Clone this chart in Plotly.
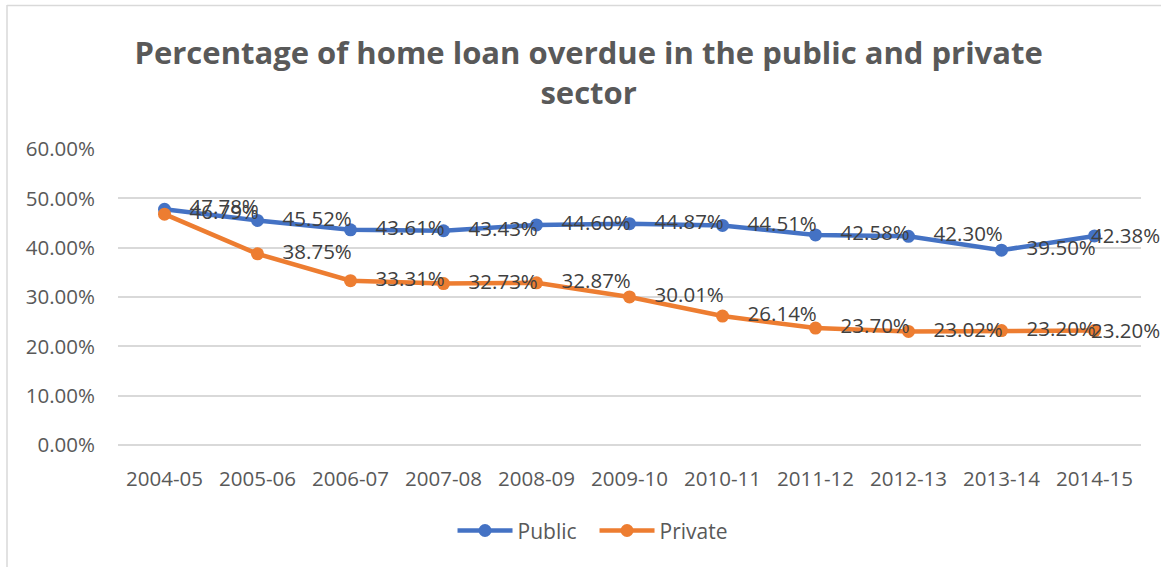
import plotly.graph_objects as go

years = ["2004-05", "2005-06", "2006-07", "2007-08", "2008-09", "2009-10",
         "2010-11", "2011-12", "2012-13", "2013-14", "2014-15"]
public = [47.78, 45.52, 43.61, 43.43, 44.60, 44.87, 44.51, 42.58, 42.30, 39.50, 42.38]
private = [46.79, 38.75, 33.31, 32.73, 32.87, 30.01, 26.14, 23.70, 23.02, 23.20, 23.20]
y_ticks = [0, 10, 20, 30, 40, 50, 60]

FONT = "Open Sans"
L, R, T, B = 118, 20, 149, 122
W, H = 1161, 567
pw = W - L - R
ph = H - T - B
PAD = "\u00a0\u00a0\u00a0"
LABEL_FONT = dict(family=FONT, size=20.5, color="#404040")

fig = go.Figure()
for name, vals, col in [("Public", public, "#4472C4"), ("Private", private, "#ED7D31")]:
    txt = [f"{PAD}{v:.2f}%" for v in vals[:-1]] + [""]
    fig.add_trace(go.Scatter(
        x=years, y=[v / 100 for v in vals], name=name,
        mode="lines+markers+text",
        line=dict(color=col, width=4.5),
        marker=dict(color=col, size=13),
        text=txt,
        textposition="middle right",
        textfont=LABEL_FONT,
        cliponaxis=False,
    ))
    # last label sits over its marker (kept inside the chart like the original)
    fig.add_annotation(
        x=years[-1], y=vals[-1] / 100, text=f"{vals[-1]:.2f}%",
        xanchor="left", yanchor="middle", xshift=-6, yshift=1,
        showarrow=False, font=LABEL_FONT,
    )

fig.update_layout(
    width=W, height=H,
    margin=dict(l=L, r=R, t=T, b=B),
    paper_bgcolor="white", plot_bgcolor="white",
    title=dict(
        text="Percentage of home loan overdue in the public and private<br>sector",
        x=0.507, xanchor="center", y=0.888, yanchor="middle",
        font=dict(family=FONT, size=31, color="#595959", weight="bold"),
    ),
    xaxis=dict(
        type="category", range=[-0.5, 10.5], showgrid=False, showline=False,
        ticks="", tickfont=dict(family=FONT, size=20.5, color="#595959"),
        ticklabelstandoff=19,
    ),
    yaxis=dict(
        range=[0, 0.6], tickvals=[v / 100 for v in y_ticks],
        ticktext=[f"{v:.2f}%" for v in y_ticks],
        showgrid=True, gridcolor="#D9D9D9", gridwidth=1.5,
        zeroline=True, zerolinecolor="#D9D9D9", zerolinewidth=1.5,
        showline=False, ticks="",
        tickfont=dict(family=FONT, size=20.5, color="#595959"),
        ticklabelstandoff=22,
    ),
    legend=dict(
        orientation="h", x=0.327, xanchor="left", y=-0.29, yanchor="middle",
        font=dict(family=FONT, size=21, color="#595959"),
        itemwidth=55, tracegroupgap=0,
        entrywidth=72, entrywidthmode="pixels",
    ),
    showlegend=True,
)

# chart frame (left and top edges)
def px_x(p):
    return (p - L) / pw

def px_y(p):
    return (H - B - p) / ph

fig.add_shape(type="line", xref="paper", yref="paper",
              x0=px_x(7), x1=px_x(7), y0=px_y(5), y1=px_y(567),
              line=dict(color="#D9D9D9", width=1.5))
fig.add_shape(type="line", xref="paper", yref="paper",
              x0=px_x(7), x1=px_x(1161), y0=px_y(5.5), y1=px_y(5.5),
              line=dict(color="#D9D9D9", width=1.5))

fig.write_html("out.html")
